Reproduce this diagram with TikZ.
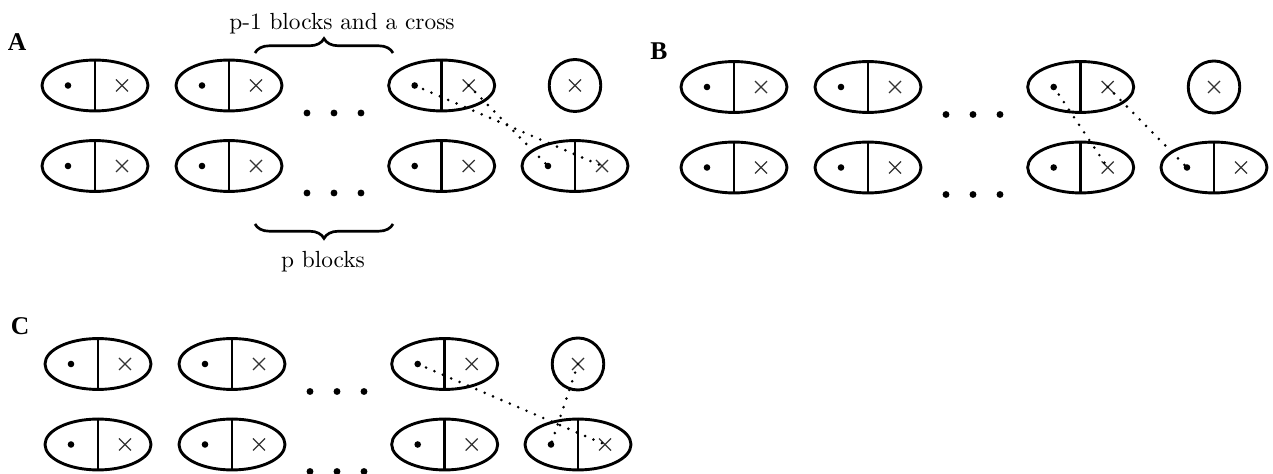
\documentclass[tikz,border=0pt]{standalone}
\usepackage{fontspec}
\newfontfamily\labfont{Liberation Serif}
\usetikzlibrary{shapes.geometric,decorations.pathreplacing}
\tikzset{
  outline/.style={line width=1.3pt},
  crossline/.style={line width=0.6pt, black!80},
  dotline/.style={line width=1.3pt, line cap=round, dash pattern=on 0pt off 4.1pt},
  bigdot/.style={circle, fill, inner sep=0pt, minimum size=3.1pt},
  panellabel/.style={font=\labfont\bfseries\fontsize{11.5}{12}\selectfont},
  bracetext/.style={font=\fontsize{10.5}{12}\selectfont, anchor=base},
  blk/.pic={
    \node[ellipse, draw, outline, minimum width=47.7pt, minimum height=22.9pt, inner sep=0pt] (-e) at (0,0) {};
    \draw[outline] (-e.north) -- (-e.south);
    \coordinate (-d) at (-27,0);
    \coordinate (-x) at (27,0);
    \fill (-d) circle (3.3);
    \draw[crossline] (21,-6) -- (33,6) (21,6) -- (33,-6);
  },
  cblk/.pic={
    \node[ellipse, draw, outline, minimum width=23.2pt, minimum height=23.4pt, inner sep=0pt] (-e) at (0,0) {};
    \coordinate (-x) at (0,0);
    \draw[crossline] (-6,-6) -- (6,6) (-6,6) -- (6,-6);
  },
}
\newcommand\mypanel[3]{%
  \begin{scope}[shift={(#2,#3)}]
    \pic (#1a1) at (95,85.5) {blk};
    \pic (#1a2) at (229,85.5) {blk};
    \pic (#1a3) at (441.7,85.5) {blk};
    \pic (#1a4) at (575,85.5) {cblk};
    \pic (#1b1) at (95,166) {blk};
    \pic (#1b2) at (229,166) {blk};
    \pic (#1b3) at (441.7,166) {blk};
    \pic (#1b4) at (575,166) {blk};
    \node[bigdot] (#1u1) at (307,113) {};
    \node[bigdot] (#1u2) at (334,113) {};
    \node[bigdot] (#1u3) at (361,113) {};
    \node[bigdot] (#1v1) at (307,193) {};
    \node[bigdot] (#1v2) at (334,193) {};
    \node[bigdot] (#1v3) at (361,193) {};
  \end{scope}}
\begin{document}
\begin{tikzpicture}[x=0.45pt, y=-0.45pt]
  \useasboundingbox (0,0) rectangle (1273,474);
  % panel A
  \node[panellabel] (labA) at (17,42) {A};
  \mypanel{A}{0}{0}
  \draw[dotline] (Aa3-d) -- (Ab4-x);
  \draw[dotline] (Aa3-x) -- (Ab4-d);
  \coordinate (bt1) at (255,53);
  \coordinate (bt2) at (393,53);
  \draw[line width=1.2pt, decorate, decoration={brace, amplitude=6.5pt}] (bt1) -- (bt2);
  \node[bracetext] (toptext) at (342,30) {p-1 blocks and a cross};
  \coordinate (bb1) at (393,224);
  \coordinate (bb2) at (255,224);
  \draw[line width=1.2pt, decorate, decoration={brace, amplitude=6.5pt}] (bb1) -- (bb2);
  \node[bracetext] (bottext) at (323,268) {p blocks};
  % panel B
  \node[panellabel] (labB) at (659,51) {B};
  \mypanel{B}{639}{1.5}
  \draw[dotline] (Ba3-d) -- (Bb3-x);
  \draw[dotline] (Ba3-x) -- (Bb4-d);
  % panel C
  \node[panellabel] (labC) at (20,326) {C};
  \mypanel{C}{3}{278.5}
  \draw[dotline] (Ca3-d) -- (Cb4-x);
  \draw[dotline] (Ca4-x) -- (Cb4-d);
\end{tikzpicture}
\end{document}
